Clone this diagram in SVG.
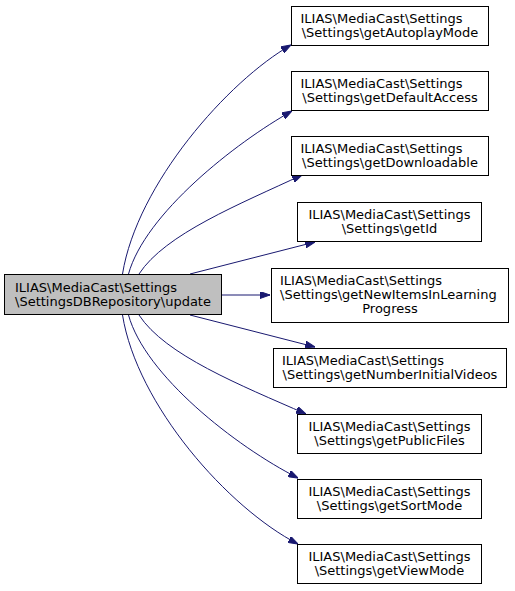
<svg xmlns="http://www.w3.org/2000/svg" width="515" height="591" viewBox="0 0 515 591">
<style>
.node rect{fill:#ffffff;stroke:#000000;stroke-width:1}
.node.main rect{fill:#bfbfbf}
text{font-family:"DejaVu Sans",sans-serif;font-size:13px;fill:#000000}
.c{text-anchor:middle}
.edge{fill:none;stroke:#191970;stroke-width:1;marker-end:url(#ah)}
</style>
<defs>
<marker id="ah" markerUnits="userSpaceOnUse" viewBox="0 0 10 7" markerWidth="10" markerHeight="7" refX="10" refY="3.5" orient="auto">
<path d="M0,0 L10,3.5 L0,7 z" fill="#191970" stroke="#191970" stroke-width="1"/>
</marker>
</defs>
<rect width="515" height="591" fill="#ffffff"/>
<g id="edges">
<path class="edge" d="M122.5,274 C137,184 228,81 291,45"/>
<path class="edge" d="M128.5,274 C145,214 235,143 292,111"/>
<path class="edge" d="M139,274 C165,234 240,204 302,175"/>
<path class="edge" d="M190,274 L315,242"/>
<path class="edge" d="M222,295 L270,295"/>
<path class="edge" d="M190,315 L315,347"/>
<path class="edge" d="M139,315 C165,355 240,385 306,414"/>
<path class="edge" d="M128.5,315 C145,375 235,446 298,478"/>
<path class="edge" d="M122.5,315 C137,405 228,508 298,544"/>
</g>
<g id="node_main" class="node main">
<rect x="4.5" y="274.5" width="217" height="40"/>
<text x="15" y="291.5">ILIAS\MediaCast\Settings</text>
<text class="c" x="113" y="305.5">\SettingsDBRepository\update</text>
</g>
<g id="node_getAutoplayMode" class="node">
<rect x="291.5" y="6.5" width="197" height="39"/>
<text x="300.5" y="22.5">ILIAS\MediaCast\Settings</text>
<text class="c" x="390" y="36.5">\Settings\getAutoplayMode</text>
</g>
<g id="node_getDefaultAccess" class="node">
<rect x="291.5" y="71.5" width="197" height="39"/>
<text x="300.5" y="87.5">ILIAS\MediaCast\Settings</text>
<text class="c" x="390" y="101.5">\Settings\getDefaultAccess</text>
</g>
<g id="node_getDownloadable" class="node">
<rect x="291.5" y="136.5" width="197" height="39"/>
<text x="300.5" y="152.5">ILIAS\MediaCast\Settings</text>
<text class="c" x="390" y="166.5">\Settings\getDownloadable</text>
</g>
<g id="node_getId" class="node">
<rect x="297.5" y="202.5" width="184" height="39"/>
<text class="c" x="389.5" y="218.5">ILIAS\MediaCast\Settings</text>
<text class="c" x="389.5" y="232.5">\Settings\getId</text>
</g>
<g id="node_getNewItemsInLearningProgress" class="node">
<rect x="271.5" y="268.5" width="237" height="54"/>
<text x="280" y="284.5">ILIAS\MediaCast\Settings</text>
<text x="280" y="298.5">\Settings\getNewItemsInLearning</text>
<text class="c" x="390" y="312.5">Progress</text>
</g>
<g id="node_getNumberInitialVideos" class="node">
<rect x="273.5" y="348.5" width="233" height="39"/>
<text x="282" y="364.5">ILIAS\MediaCast\Settings</text>
<text class="c" x="390" y="378.5">\Settings\getNumberInitialVideos</text>
</g>
<g id="node_getPublicFiles" class="node">
<rect x="297.5" y="414.5" width="184" height="39"/>
<text class="c" x="389.5" y="430.5">ILIAS\MediaCast\Settings</text>
<text class="c" x="389.5" y="444.5">\Settings\getPublicFiles</text>
</g>
<g id="node_getSortMode" class="node">
<rect x="297.5" y="479.5" width="184" height="39"/>
<text class="c" x="389.5" y="495.5">ILIAS\MediaCast\Settings</text>
<text class="c" x="389.5" y="509.5">\Settings\getSortMode</text>
</g>
<g id="node_getViewMode" class="node">
<rect x="297.5" y="544.5" width="184" height="39"/>
<text class="c" x="389.5" y="560.5">ILIAS\MediaCast\Settings</text>
<text class="c" x="389.5" y="574.5">\Settings\getViewMode</text>
</g>
</svg>
